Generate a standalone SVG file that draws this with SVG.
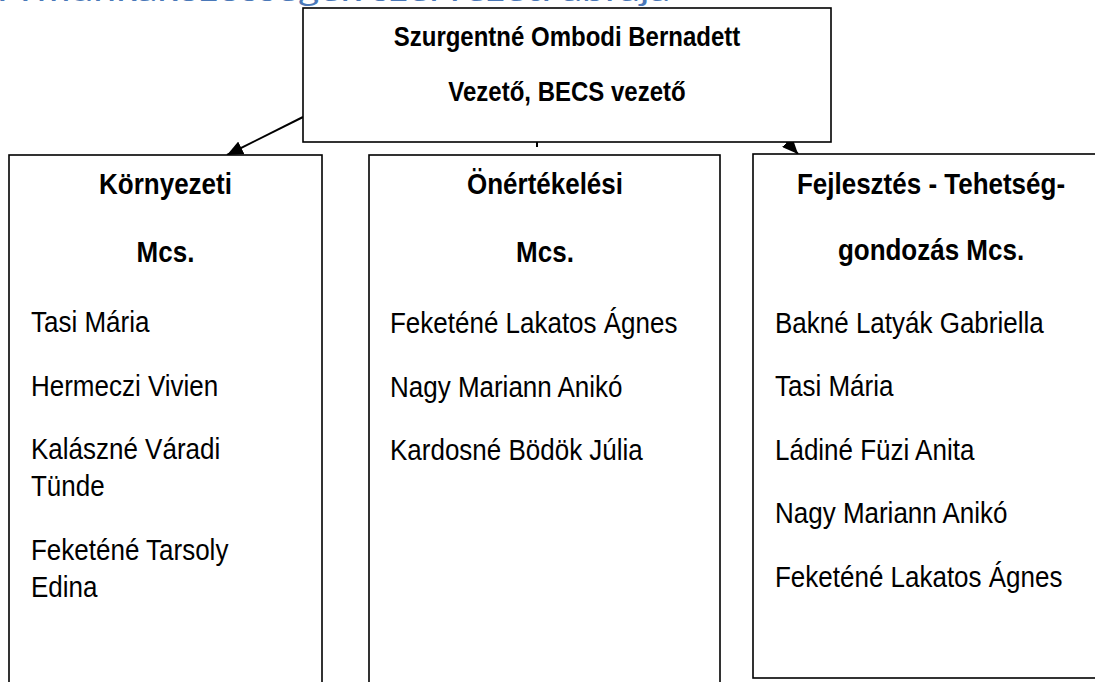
<svg xmlns="http://www.w3.org/2000/svg" width="1095" height="682" viewBox="0 0 1095 682">
<style>
.box{fill:#fff;stroke:#000;stroke-width:1.6}
.h{font-family:"Liberation Sans",Arial,sans-serif;font-weight:bold;font-size:26px;fill:#000;text-anchor:middle}
.t{font-family:"Liberation Sans",Arial,sans-serif;font-weight:bold;font-size:24px;fill:#000;text-anchor:middle}
.n{font-family:"Liberation Sans",Arial,sans-serif;font-size:26px;fill:#000}
.c{stroke:#000;stroke-width:2;fill:none}
.title{font-family:Lato,"Open Sans",sans-serif;font-size:30px;fill:#4a78b8}
</style>
<defs>
<marker id="ah" markerUnits="userSpaceOnUse" markerWidth="18" markerHeight="14" refX="16" refY="7" orient="auto">
<path d="M0,0 L16,7 L0,14 Z" fill="#000"/>
</marker>
</defs>
<text class="title" x="0" y="1" textLength="670" lengthAdjust="spacingAndGlyphs">A munkaközösségek szervezeti ábrája</text>
<g id="connectors">
<line class="c" x1="303" y1="117" x2="227" y2="155" marker-end="url(#ah)"/>
<line class="c" x1="765" y1="118" x2="798" y2="154" marker-end="url(#ah)"/>
<line class="c" x1="537" y1="130" x2="537" y2="147"/>
</g>
<g id="top">
<rect class="box" x="303" y="8" width="528" height="134"/>
<text class="t" transform="translate(567 46) scale(1 1.12)">Szurgentné Ombodi Bernadett</text>
<text class="t" transform="translate(567 101) scale(1 1.12)">Vezető, BECS vezető</text>
</g>
<g id="kornyezeti">
<rect class="box" x="9" y="155" width="313" height="540"/>
<text class="h" transform="translate(165.5 194) scale(1 1.15)">Környezeti</text>
<text class="h" transform="translate(165.5 262) scale(1 1.15)">Mcs.</text>
<text class="n" transform="translate(31 332) scale(1 1.15)">Tasi Mária</text>
<text class="n" transform="translate(31 396) scale(1 1.15)">Hermeczi Vivien</text>
<text class="n" transform="translate(31 459) scale(1 1.15)">Kalászné Váradi</text>
<text class="n" transform="translate(31 496) scale(1 1.15)">Tünde</text>
<text class="n" transform="translate(31 560) scale(1 1.15)">Feketéné Tarsoly</text>
<text class="n" transform="translate(31 597) scale(1 1.15)">Edina</text>
</g>
<g id="onertekelesi">
<rect class="box" x="369" y="155" width="351" height="540"/>
<text class="h" transform="translate(545 194) scale(1 1.15)">Önértékelési</text>
<text class="h" transform="translate(545 262) scale(1 1.15)">Mcs.</text>
<text class="n" transform="translate(390 333) scale(1 1.15)">Feketéné Lakatos Ágnes</text>
<text class="n" transform="translate(390 397) scale(1 1.15)">Nagy Mariann Anikó</text>
<text class="n" transform="translate(390 460) scale(1 1.15)">Kardosné Bödök Júlia</text>
</g>
<g id="fejlesztes">
<rect class="box" x="753" y="154" width="360" height="524"/>
<text class="h" transform="translate(931 194) scale(1 1.15)">Fejlesztés - Tehetség-</text>
<text class="h" transform="translate(931 260) scale(1 1.15)">gondozás Mcs.</text>
<text class="n" transform="translate(775 333) scale(1 1.15)">Bakné Latyák Gabriella</text>
<text class="n" transform="translate(775 396) scale(1 1.15)">Tasi Mária</text>
<text class="n" transform="translate(775 460) scale(1 1.15)">Ládiné Füzi Anita</text>
<text class="n" transform="translate(775 523) scale(1 1.15)">Nagy Mariann Anikó</text>
<text class="n" transform="translate(775 587) scale(1 1.15)">Feketéné Lakatos Ágnes</text>
</g>
</svg>
